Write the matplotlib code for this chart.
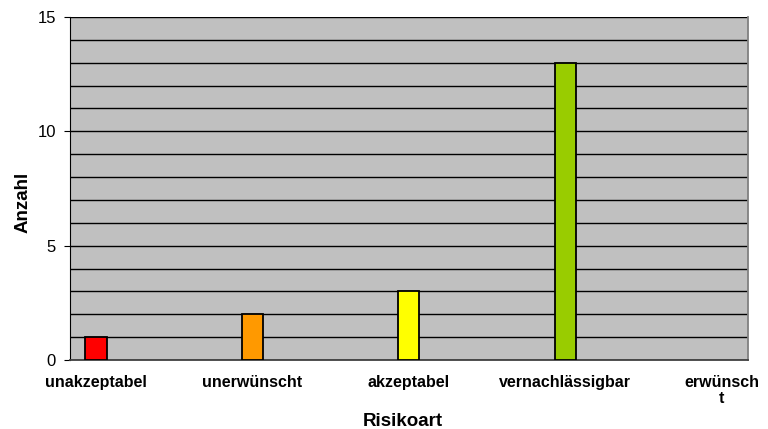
import matplotlib.pyplot as plt

plt.rcParams['font.family'] = ['Liberation Sans', 'DejaVu Sans']

categories = ["unakzeptabel", "unerwünscht", "akzeptabel", "vernachlässigbar", "erwünsch\nt"]
counts = [1, 2, 3, 13, 0]
colors = ["#FF0000", "#FF9900", "#FFFF00", "#99CC00", "#3366FF"]

fig = plt.figure(figsize=(7.68, 4.29), dpi=100)
ax = fig.add_axes([0.0911, 0.1608, 0.8827, 0.7996])
ax.set_facecolor("#C0C0C0")

x = list(range(len(categories)))
# empty categories get no outline
edge_widths = [1.3 if c > 0 else 0 for c in counts]
ax.bar(x, counts, width=0.135, color=colors, edgecolor="black", linewidth=edge_widths, zorder=3)

ax.set_xlim(-0.166, 4.166)
ax.set_ylim(0, 15)
ax.set_yticks([0, 5, 10, 15])
ax.set_yticks(range(16), minor=True)
ax.grid(axis="y", which="both", color="black", linewidth=1.0, zorder=1)
ax.tick_params(axis="y", which="minor", length=0)
ax.tick_params(axis="y", which="major", length=4, labelsize=12, pad=6)

ax.set_xticks(x)
ax.set_xticklabels(categories, fontsize=11.5, fontweight="bold", linespacing=1.1)
ax.tick_params(axis="x", length=0, pad=11)

ax.spines["top"].set_visible(False)
ax.spines["right"].set_color("#808080")
ax.spines["right"].set_linewidth(1.3)
ax.spines["left"].set_color("black")
ax.spines["bottom"].set_color("#404040")
ax.spines["bottom"].set_linewidth(1.3)

ax.set_ylabel("Anzahl", fontsize=13.5, fontweight="bold")
ax.yaxis.set_label_coords(-0.056, 0.461)
ax.set_xlabel("Risikoart", fontsize=13.5, fontweight="bold")
ax.xaxis.set_label_coords(0.491, -0.155)

fig.savefig("out.png", dpi=100)
